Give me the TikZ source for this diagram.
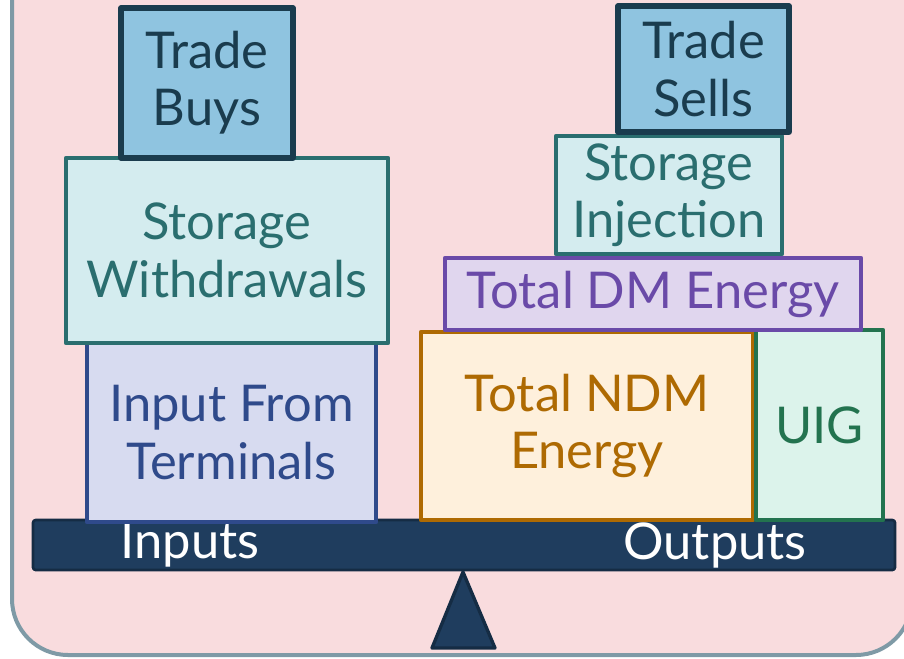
\documentclass[tikz,border=0pt]{standalone}
\usepackage{fontspec}
\setmainfont{Lato}
\usepackage{tikz}
\usetikzlibrary{positioning, calc}

\definecolor{framecol}{HTML}{7F9AA6}
\definecolor{panelcol}{HTML}{F9DCDE}
\definecolor{beamcol}{HTML}{1F3D5E}
\definecolor{beamedge}{HTML}{152C44}
\definecolor{tradefill}{HTML}{8FC4E0}
\definecolor{tradeedge}{HTML}{1A3C4E}
\definecolor{storfill}{HTML}{D4ECEF}
\definecolor{storedge}{HTML}{2A6E6F}
\definecolor{inpfill}{HTML}{D7DBF0}
\definecolor{inpedge}{HTML}{2F4A8B}
\definecolor{dmfill}{HTML}{E0D6EE}
\definecolor{dmedge}{HTML}{6A4AA8}
\definecolor{ndmfill}{HTML}{FEF0DC}
\definecolor{ndmedge}{HTML}{AE6A02}
\definecolor{uigfill}{HTML}{DCF3EB}
\definecolor{uigedge}{HTML}{23734F}

\begin{document}
\begin{tikzpicture}[x=0.75pt,y=-0.75pt,line join=round]
	\def \u{0.75pt}
	\def \beamrow{545}
	\tikzstyle{blk}=[rectangle,draw,line width=3.4pt,inner sep=0pt,align=center,font=\fontsize{38}{43}\selectfont]
	\tikzstyle{t-node}=[blk,fill=tradefill,draw=tradeedge,text=tradeedge,line width=3.8pt]
	\tikzstyle{s-node}=[blk,fill=storfill,draw=storedge,text=storedge]
	\tikzstyle{i-node}=[blk,fill=inpfill,draw=inpedge,text=inpedge]
	\tikzstyle{dm-node}=[blk,fill=dmfill,draw=dmedge,text=dmedge]
	\tikzstyle{ndm-node}=[blk,fill=ndmfill,draw=ndmedge,text=ndmedge]
	\tikzstyle{u-node}=[blk,fill=uigfill,draw=uigedge,text=uigedge]
	\tikzstyle{annot}=[text=white,font=\fontsize{38}{43}\selectfont]
	\useasboundingbox (0,0) rectangle (904,658);
	% panel
	\begin{scope}
		\clip (0,0) rectangle (904,658);
		\draw[framecol,fill=panelcol,line width=3pt,rounded corners=42pt] (12,-60) rectangle (912,655);
	\end{scope}
	
	% fulcrum
	\draw[beamedge,fill=beamcol,line width=2.5pt] (463,572) -- (495,648) -- (432,648) -- cycle;
	
	% beam
	\node[rectangle,fill=beamcol,draw=beamedge,line width=2pt,rounded corners=2pt,minimum width=862*\u,minimum height=50*\u] (beam) at (464,\beamrow) {};
	\node[annot] (inputs) at (190,\beamrow) {Inputs};
	\node[annot] (outputs) at (715,\beamrow) {Outputs};
	
	% input side
	\node[i-node,minimum width=289*\u,minimum height=179*\u] (terminals) at (231.5,432.5) {Input From\\Terminals};
	\node[s-node,minimum width=322*\u,minimum height=185*\u] (withdraw) at (227,250.5) {Storage\\Withdrawals};
	\node[t-node,minimum width=172*\u,minimum height=150*\u] (buys) at (207,83) {Trade\\Buys};
	
	% output side
	\node[ndm-node,minimum width=332*\u,minimum height=188*\u] (ndm) at (587,426) {Total NDM\\Energy};
	\node[u-node,minimum width=127*\u,minimum height=190*\u] (uig) at (819.5,425) {UIG};
	\node[dm-node,minimum width=416*\u,minimum height=72*\u] (dm) at (653,294) {Total DM Energy};
	\node[s-node,minimum width=226*\u,minimum height=118*\u] (inject) at (669,195) {Storage\\Injection};
	\node[t-node,minimum width=171*\u,minimum height=126*\u] (sells) at (703.5,69) {Trade\\Sells};
\end{tikzpicture}
\end{document}
